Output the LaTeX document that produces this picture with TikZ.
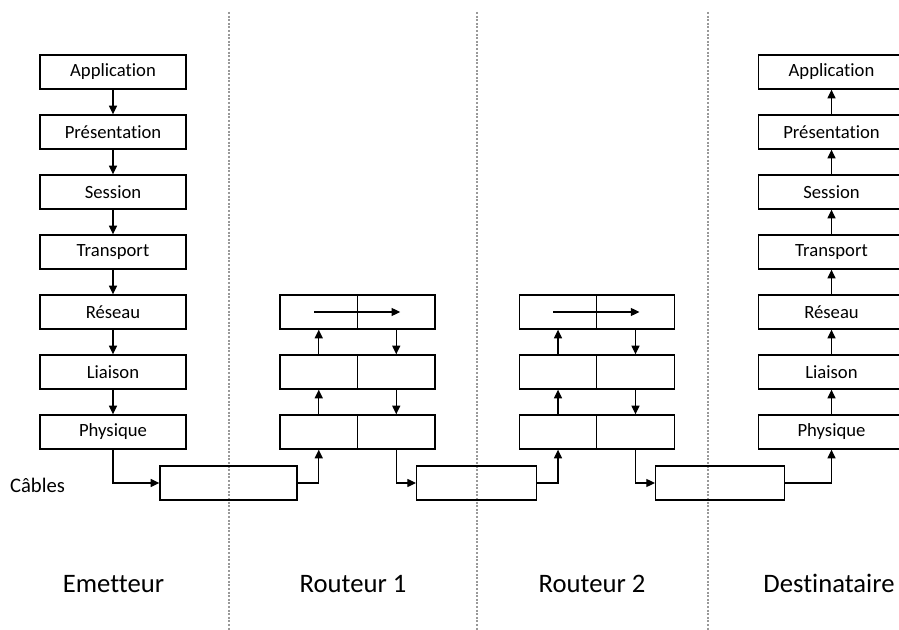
\documentclass[tikz,border=0pt]{standalone}
\usepackage{fontspec}
\setmainfont{Carlito}[Ligatures=NoCommon]
\usetikzlibrary{arrows.meta}

\tikzset{
  layer/.style={draw, line width=1pt, minimum width=109.5pt, minimum height=25.5pt,
    inner sep=0pt, font=\fontsize{14}{16}\selectfont},
  half/.style={draw, line width=1pt, minimum width=58.1pt, minimum height=25.5pt, inner sep=0pt},
  cable/.style={draw, line width=1pt, minimum height=25.5pt, inner sep=0pt},
  flow/.style={line width=0.9pt, -{Triangle[length=6.5pt,width=6pt]}},
  sep/.style={gray!80, line width=0.8pt, dash pattern=on 1.5pt off 1.2pt},
  title/.style={font=\fontsize{20}{24}\selectfont, anchor=base},
}

\begin{document}
\begin{tikzpicture}[x=0.75pt, y=-0.75pt]
  \useasboundingbox (0,0) rectangle (899,630);
  \clip (0,0) rectangle (899,630);

  \draw[sep] (229,12) -- (229,630);
  \draw[sep] (477,12) -- (477,630);
  \draw[sep] (708,12) -- (708,630);

  \begin{scope}
    \node[layer] (e1) at (113,72) {Application};
    \node[layer] (e2) at (113,132) {Présentation};
    \node[layer] (e3) at (113,192) {Session};
    \node[layer] (e4) at (113,252) {Transport};
    \node[layer] (e5) at (113,312) {Réseau};
    \node[layer] (e6) at (113,372) {Liaison};
    \node[layer] (e7) at (113,432) {Physique};
    \draw[flow] (e1) -- (e2);
    \draw[flow] (e2) -- (e3);
    \draw[flow] (e3) -- (e4);
    \draw[flow] (e4) -- (e5);
    \draw[flow] (e5) -- (e6);
    \draw[flow] (e6) -- (e7);
  \end{scope}

  \begin{scope}
    \node[layer] (d1) at (831.5,72) {Application};
    \node[layer] (d2) at (831.5,132) {Présentation};
    \node[layer] (d3) at (831.5,192) {Session};
    \node[layer] (d4) at (831.5,252) {Transport};
    \node[layer] (d5) at (831.5,312) {Réseau};
    \node[layer] (d6) at (831.5,372) {Liaison};
    \node[layer] (d7) at (831.5,432) {Physique};
    \draw[flow] (d7) -- (d6);
    \draw[flow] (d6) -- (d5);
    \draw[flow] (d5) -- (d4);
    \draw[flow] (d4) -- (d3);
    \draw[flow] (d3) -- (d2);
    \draw[flow] (d2) -- (d1);
  \end{scope}

  \begin{scope}
    \node[half] (r1l1) at (318.75,312) {};
    \node[half] (r1r1) at (396.25,312) {};
    \node[half] (r1l2) at (318.75,372) {};
    \node[half] (r1r2) at (396.25,372) {};
    \node[half] (r1l3) at (318.75,432) {};
    \node[half] (r1r3) at (396.25,432) {};
    \draw[flow] (r1l3) -- (r1l2);
    \draw[flow] (r1l2) -- (r1l1);
    \draw[flow] ([xshift=-3.5pt]r1l1.center) -- ([xshift=3pt]r1r1.center);
    \draw[flow] (r1r1) -- (r1r2);
    \draw[flow] (r1r2) -- (r1r3);
  \end{scope}

  \begin{scope}
    \node[half] (r2l1) at (558,312) {};
    \node[half] (r2r1) at (635.5,312) {};
    \node[half] (r2l2) at (558,372) {};
    \node[half] (r2r2) at (635.5,372) {};
    \node[half] (r2l3) at (558,432) {};
    \node[half] (r2r3) at (635.5,432) {};
    \draw[flow] (r2l3) -- (r2l2);
    \draw[flow] (r2l2) -- (r2l1);
    \draw[flow] ([xshift=-3.5pt]r2l1.center) -- ([xshift=3pt]r2r1.center);
    \draw[flow] (r2r1) -- (r2r2);
    \draw[flow] (r2r2) -- (r2r3);
  \end{scope}

  \begin{scope}
    \node[cable, minimum width=102.75pt] (c1) at (228.5,483) {};
    \node[cable, minimum width=89.7pt] (c2) at (476.5,483) {};
    \node[cable, minimum width=96.5pt] (c3) at (720,483) {};
    \draw[flow] (e7.south) |- (c1.west);
    \draw[flow] (c1.east) -| (r1l3.south);
    \draw[flow] (r1r3.south) |- (c2.west);
    \draw[flow] (c2.east) -| (r2l3.south);
    \draw[flow] (r2r3.south) |- (c3.west);
    \draw[flow] (c3.east) -| (d7.south);
  \end{scope}

  \node[font=\fontsize{15.5}{18}\selectfont] (cables) at (37.5,485) {Câbles};
  \node[title] (emetteur) at (113.5,592) {Emetteur};
  \node[title] (routeur1) at (353,592) {Routeur 1};
  \node[title] (routeur2) at (592,592) {Routeur 2};
  \node[title] (destinataire) at (829,592) {Destinataire};
\end{tikzpicture}
\end{document}
